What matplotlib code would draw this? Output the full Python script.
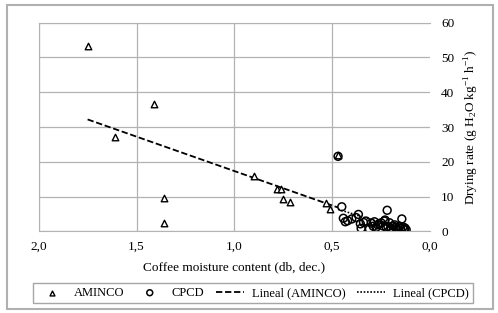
import numpy as np
import matplotlib
matplotlib.use("Agg")
from matplotlib import pyplot as plt
from matplotlib.patches import Rectangle

plt.rcParams['font.family'] = ['Liberation Serif', 'DejaVu Serif']
plt.rcParams['mathtext.fontset'] = 'custom'
plt.rcParams['mathtext.rm'] = 'Liberation Serif'

# AMINCO drying data (moisture db dec., drying rate)
aminco_x = [1.75, 1.61, 1.41, 1.36, 1.36, 0.90, 0.78, 0.76, 0.75, 0.715, 0.53, 0.51, 0.47]
aminco_y = [53.2, 27.2, 36.6, 9.5, 2.5, 15.9, 12.1, 12.3, 9.2, 8.5, 8.3, 6.6, 22.0]

# CPCD drying data
cpcd_x = [0.47, 0.451, 0.443, 0.433, 0.421, 0.40, 0.378, 0.366, 0.356, 0.352, 0.34, 0.327,
          0.31, 0.30, 0.29, 0.284, 0.275, 0.267, 0.26, 0.25, 0.24, 0.233, 0.23, 0.224, 0.219,
          0.215, 0.207, 0.2, 0.198, 0.19, 0.181, 0.175, 0.17, 0.163, 0.155, 0.15, 0.144,
          0.138, 0.133, 0.128, 0.122]
cpcd_y = [21.6, 7.1, 3.8, 2.8, 3.1, 3.6, 4.0, 4.9, 2.2, 0.9, 2.6, 3.0,
          0.7, 2.4, 1.5, 2.8, 1.2, 1.9, 2.2, 2.5, 1.6, 3.0, 3.3, 1.2, 6.1,
          1.4, 2.5, 1.0, 0.6, 1.6, 1.9, 1.2, 0.8, 1.1, 1.5, 0.9, 3.6,
          1.3, 0.6, 1.0, 0.5]

x_ticks = [2.0, 1.5, 1.0, 0.5, 0.0]
x_tick_labels = ['2,0', '1,5', '1,0', '0,5', '0,0']
y_ticks = [0, 10, 20, 30, 40, 50, 60]

grid_color = '#b3b3b3'
W, H = 498, 313

fig = plt.figure(figsize=(4.98, 3.13), dpi=100)
ax = fig.add_axes([0.0777, 0.2604, 0.7858, 0.6671])

ax.scatter(aminco_x, aminco_y, marker='^', s=22, facecolors='white', edgecolors='black',
           linewidths=1.0, label='AMINCO', zorder=3)
ax.scatter(cpcd_x, cpcd_y, marker='o', s=32, facecolors='none', edgecolors='black',
           linewidths=1.1, label='CPCD', zorder=3)

# linear trend lines, fitted as in the spreadsheet
a_fit = np.polyfit(aminco_x, aminco_y, 1)
xa = np.array([max(aminco_x), min(aminco_x)])
ax.plot(xa, np.polyval(a_fit, xa), color='black', ls=(0, (3.5, 1.5)), lw=1.3,
        label='Lineal (AMINCO)', zorder=2)
c_fit = np.polyfit(cpcd_x, cpcd_y, 1)
xc = np.array([max(cpcd_x), min(cpcd_x)])
ax.plot(xc, np.polyval(c_fit, xc), color='black', ls=(0, (1, 1)), lw=1.2,
        label='Lineal (CPCD)', zorder=2)

ax.set_xlim(2.0, 0.0)
ax.set_ylim(0, 60)
ax.set_xticks(x_ticks)
ax.set_xticklabels(x_tick_labels)
ax.set_yticks(y_ticks)
ax.yaxis.tick_right()
ax.yaxis.set_label_position('right')
ax.tick_params(axis='both', length=0, labelsize=9.5, pad=7)
ax.tick_params(axis='y', pad=8)

ax.grid(True, color=grid_color, lw=0.9)
for line, t in zip(ax.get_xgridlines(), x_ticks):
    if t == 0.0:
        line.set_visible(False)
for side in ['top', 'left', 'bottom']:
    ax.spines[side].set_color(grid_color)
ax.spines['right'].set_visible(False)

ax.set_xlabel('Coffee moisture content (db, dec.)', fontsize=9.5, labelpad=6)
ax.set_ylabel('Drying rate (g H$_2$O kg$^{-1}$ h$^{-1}$)', fontsize=9.5, labelpad=6)

leg = fig.legend(loc='center', bbox_to_anchor=(33 / W, 1 - 303.5 / H, 440 / W, 21 / H),
                 ncol=4, fontsize=9, frameon=True, fancybox=False, handlelength=2.3,
                 columnspacing=0.9, handletextpad=0.6, borderpad=0.35, markerscale=0.75)
leg.get_frame().set_edgecolor('#909090')
leg.get_frame().set_linewidth(1.0)

fig.patches.append(Rectangle((7 / W, 4 / H), 486 / W, 304 / H, transform=fig.transFigure,
                             fill=False, edgecolor='#b0b0b0', lw=1.5))

fig.savefig('out.png', dpi=100)
